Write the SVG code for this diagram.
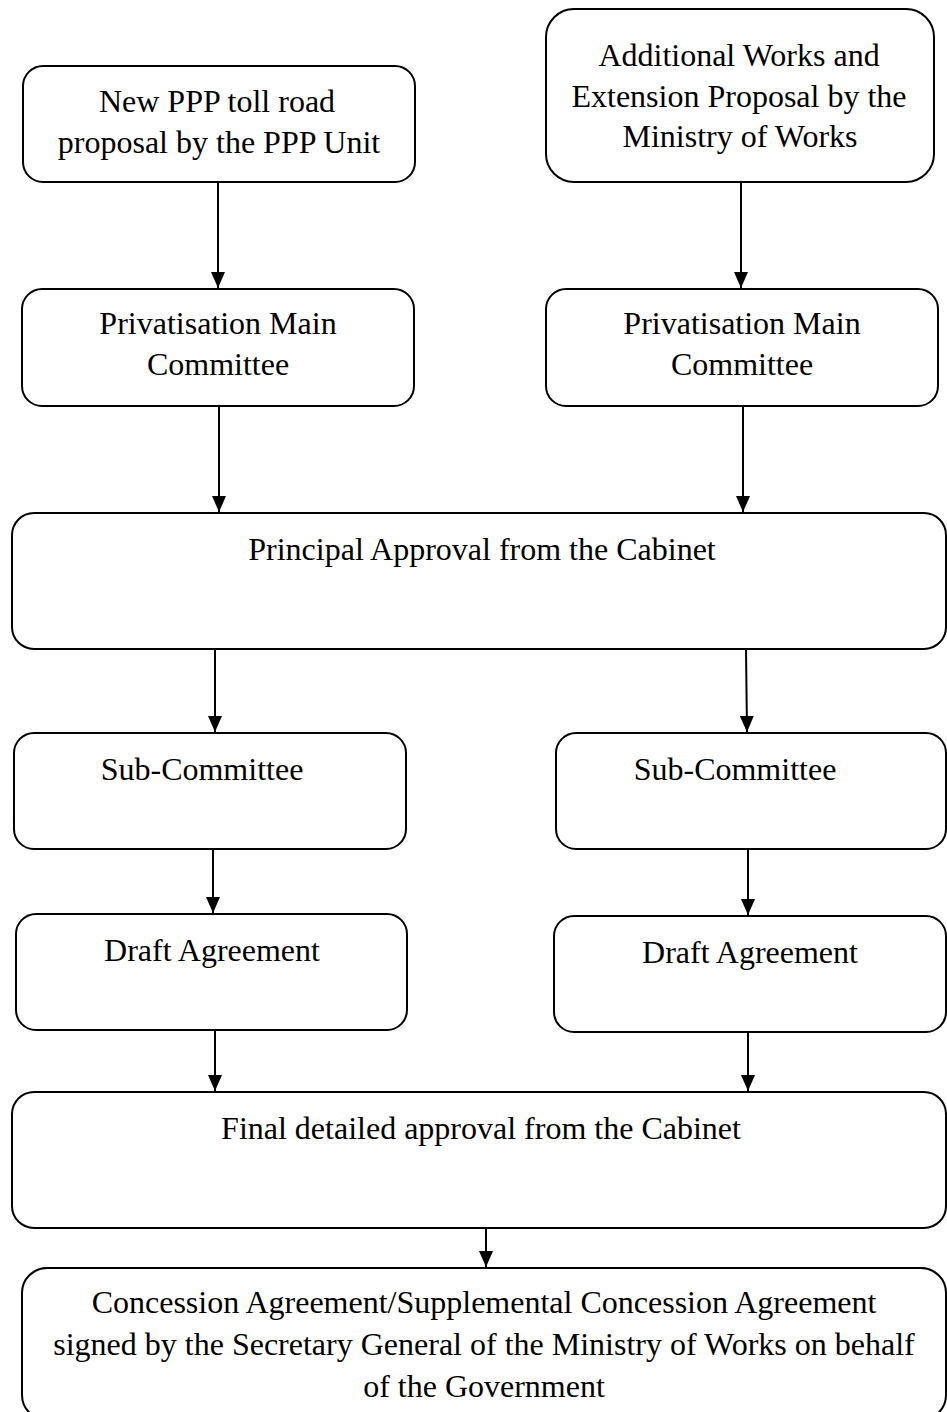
<svg xmlns="http://www.w3.org/2000/svg" width="947" height="1412" viewBox="0 0 947 1412">
  <style>
    .box { fill: #ffffff; stroke: #000000; stroke-width: 2; }
    .lbl { font-family: "Liberation Serif", "Times New Roman", serif; font-size: 32px; fill: #000000; text-anchor: middle; }
    .link { stroke: #000000; stroke-width: 2; fill: none; marker-end: url(#arrow); }
  </style>
  <defs>
    <!-- solid triangular arrowhead, tip at the end of the line -->
    <marker id="arrow" markerUnits="userSpaceOnUse" markerWidth="16" markerHeight="14" refX="16" refY="7" orient="auto" viewBox="0 0 16 14">
      <path d="M0,0 L16,7 L0,14 Z" fill="#000000"/>
    </marker>
  </defs>
  <rect width="947" height="1412" fill="#ffffff"/>

  <!-- connectors -->
  <g id="connectors">
    <line class="link" x1="218" y1="182" x2="218" y2="288"/>
    <line class="link" x1="741" y1="182" x2="741" y2="288"/>
    <line class="link" x1="219" y1="406" x2="219" y2="512"/>
    <line class="link" x1="743" y1="406" x2="743" y2="512"/>
    <line class="link" x1="215" y1="649" x2="215" y2="732"/>
    <line class="link" x1="746" y1="649" x2="747" y2="732"/>
    <line class="link" x1="213" y1="849" x2="213" y2="913"/>
    <line class="link" x1="748" y1="849" x2="748" y2="915"/>
    <line class="link" x1="215" y1="1030" x2="215" y2="1091"/>
    <line class="link" x1="748" y1="1032" x2="748" y2="1091"/>
    <line class="link" x1="486" y1="1228" x2="486" y2="1267"/>
  </g>

  <g id="ppp-proposal">
    <rect class="box" x="23" y="66" width="392" height="116" rx="20" ry="20"/>
    <text class="lbl" x="217" y="112">New PPP toll road</text>
    <text class="lbl" x="219" y="153">proposal by the PPP Unit</text>
  </g>

  <g id="works-proposal">
    <rect class="box" x="546" y="9" width="388" height="173" rx="28" ry="28"/>
    <text class="lbl" x="739" y="66">Additional Works and</text>
    <text class="lbl" x="739" y="107">Extension Proposal by the</text>
    <text class="lbl" x="740" y="147">Ministry of Works</text>
  </g>

  <g id="main-committee-left">
    <rect class="box" x="22" y="289" width="392" height="117" rx="20" ry="20"/>
    <text class="lbl" x="218" y="334">Privatisation Main</text>
    <text class="lbl" x="218" y="375">Committee</text>
  </g>

  <g id="main-committee-right">
    <rect class="box" x="546" y="289" width="392" height="117" rx="20" ry="20"/>
    <text class="lbl" x="742" y="334">Privatisation Main</text>
    <text class="lbl" x="742" y="375">Committee</text>
  </g>

  <g id="cabinet-principal">
    <rect class="box" x="12" y="513" width="934" height="136" rx="22" ry="22"/>
    <text class="lbl" x="482" y="560">Principal Approval from the Cabinet</text>
  </g>

  <g id="sub-committee-left">
    <rect class="box" x="14" y="733" width="392" height="116" rx="20" ry="20"/>
    <text class="lbl" x="202" y="780">Sub-Committee</text>
  </g>

  <g id="sub-committee-right">
    <rect class="box" x="556" y="733" width="390" height="116" rx="20" ry="20"/>
    <text class="lbl" x="735" y="780">Sub-Committee</text>
  </g>

  <g id="draft-left">
    <rect class="box" x="16" y="914" width="391" height="116" rx="20" ry="20"/>
    <text class="lbl" x="212" y="961">Draft Agreement</text>
  </g>

  <g id="draft-right">
    <rect class="box" x="554" y="916" width="392" height="116" rx="20" ry="20"/>
    <text class="lbl" x="750" y="963">Draft Agreement</text>
  </g>

  <g id="cabinet-final">
    <rect class="box" x="12" y="1092" width="934" height="136" rx="22" ry="22"/>
    <text class="lbl" x="481" y="1139">Final detailed approval from the Cabinet</text>
  </g>

  <g id="concession-signed">
    <rect class="box" x="22" y="1268" width="924" height="152" rx="25" ry="25"/>
    <text class="lbl" x="484" y="1313">Concession Agreement/Supplemental Concession Agreement</text>
    <text class="lbl" x="484" y="1355">signed by the Secretary General of the Ministry of Works on behalf</text>
    <text class="lbl" x="484" y="1397">of the Government</text>
  </g>
</svg>
